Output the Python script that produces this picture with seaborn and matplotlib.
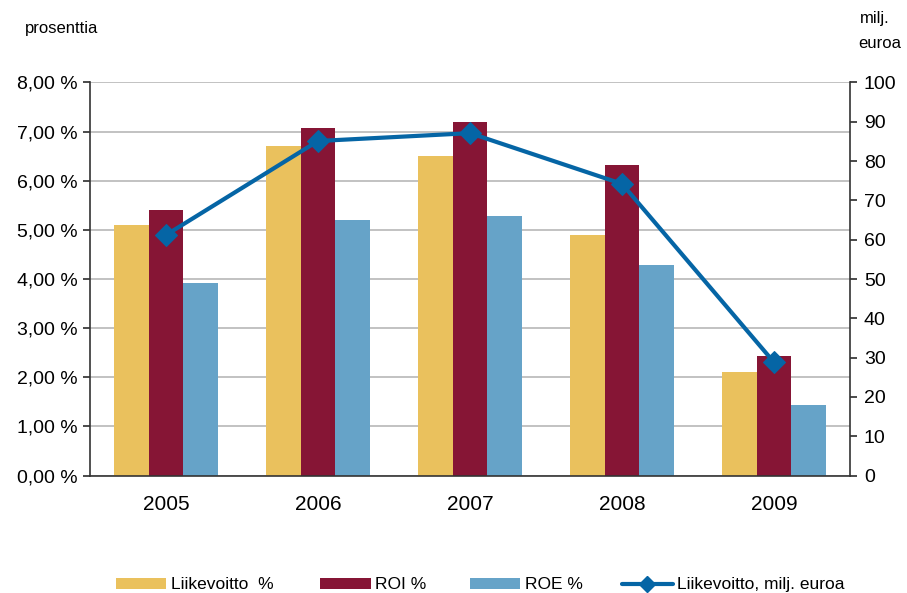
import numpy as np
import pandas as pd
import matplotlib
matplotlib.use("Agg")
import matplotlib.pyplot as plt
import seaborn as sns
from matplotlib.ticker import FuncFormatter, MultipleLocator
from matplotlib.lines import Line2D
from matplotlib.patches import Patch

years = ["2005", "2006", "2007", "2008", "2009"]
liikevoitto_pct = [5.10, 6.70, 6.50, 4.90, 2.11]
roi_pct = [5.40, 7.08, 7.20, 6.32, 2.43]
roe_pct = [3.92, 5.20, 5.28, 4.28, 1.43]
liikevoitto_meur = [61.2, 85.1, 87.1, 74.2, 28.8]
series_names = ["Liikevoitto  %", "ROI %", "ROE %"]
line_name = "Liikevoitto, milj. euroa"
colors = ["#EAC15D", "#861535", "#66A3C8"]
line_color = "#0565A5"

sns.set_theme(style="white")
plt.rcParams['font.family'] = ['Liberation Sans', 'DejaVu Sans']
plt.rcParams['text.color'] = 'black'
plt.rcParams['xtick.color'] = 'black'
plt.rcParams['ytick.color'] = 'black'

df = pd.DataFrame({
    "year": years * 3,
    "value": liikevoitto_pct + roi_pct + roe_pct,
    "series": [series_names[0]] * 5 + [series_names[1]] * 5 + [series_names[2]] * 5,
})

fig = plt.figure(figsize=(9.07, 5.93), dpi=100)
ax = fig.add_axes([0.0992, 0.198, 0.838, 0.663])
sns.barplot(data=df, x="year", y="value", hue="series", palette=colors,
            width=0.68, ax=ax, legend=False, saturation=1, linewidth=0, edgecolor="none")
ax.set_ylim(0, 8)
ax.set_xlim(-0.5, 4.5)
ax.yaxis.set_major_locator(MultipleLocator(1))
ax.yaxis.set_major_formatter(FuncFormatter(lambda v, p: f"{v:.2f}".replace(".", ",") + " %"))
ax.grid(axis="y", color="#b8b8b8", linewidth=1.2)
ax.set_axisbelow(True)
ax.set_xlabel("")
ax.set_ylabel("")
ax.tick_params(axis="y", labelsize=14, length=5, color="#333333", labelcolor="black",
               direction="out", left=True, pad=4)
ax.tick_params(axis="x", labelsize=15, length=0, pad=14, labelcolor="black")
for s in ["left", "bottom"]:
    ax.spines[s].set_color("#333333")
    ax.spines[s].set_linewidth(1.2)
ax.spines["top"].set_visible(False)
ax.spines["right"].set_visible(False)

ax2 = ax.twinx()
sns.lineplot(x=np.arange(len(years)), y=liikevoitto_meur, ax=ax2, color=line_color,
             linewidth=3, marker="D", markersize=11, markeredgecolor=line_color)
ax2.set_ylim(0, 100)
ax2.set_xlim(-0.5, 4.5)
ax2.yaxis.set_major_locator(MultipleLocator(10))
ax2.tick_params(axis="y", labelsize=14, length=5, color="#333333", labelcolor="black",
                direction="out", right=True, pad=5)
ax2.spines["right"].set_color("#333333")
ax2.spines["right"].set_linewidth(1.2)
for s in ["left", "top", "bottom"]:
    ax2.spines[s].set_visible(False)
ax2.grid(False)

fig.text(0.028, 0.952, "prosenttia", fontsize=12, ha="left", va="center")
fig.text(0.948, 0.968, "milj.", fontsize=12, ha="left", va="center")
fig.text(0.946, 0.926, "euroa", fontsize=12, ha="left", va="center")

handles = [Patch(facecolor=c, edgecolor="none") for c in colors]
handles.append(Line2D([0], [0], color=line_color, linewidth=3, marker="D", markersize=8))
labels = series_names + [line_name]
xs = [0.128, 0.353, 0.518, 0.686]
for h, l, x in zip(handles, labels, xs):
    fig.legend([h], [l], loc="center left", bbox_to_anchor=(x, 0.0135),
               frameon=False, fontsize=12.5, handlelength=2.9, handleheight=0.6,
               handletextpad=0.25, borderpad=0, borderaxespad=0, labelcolor="black")

fig.savefig("out.png", dpi=100)
